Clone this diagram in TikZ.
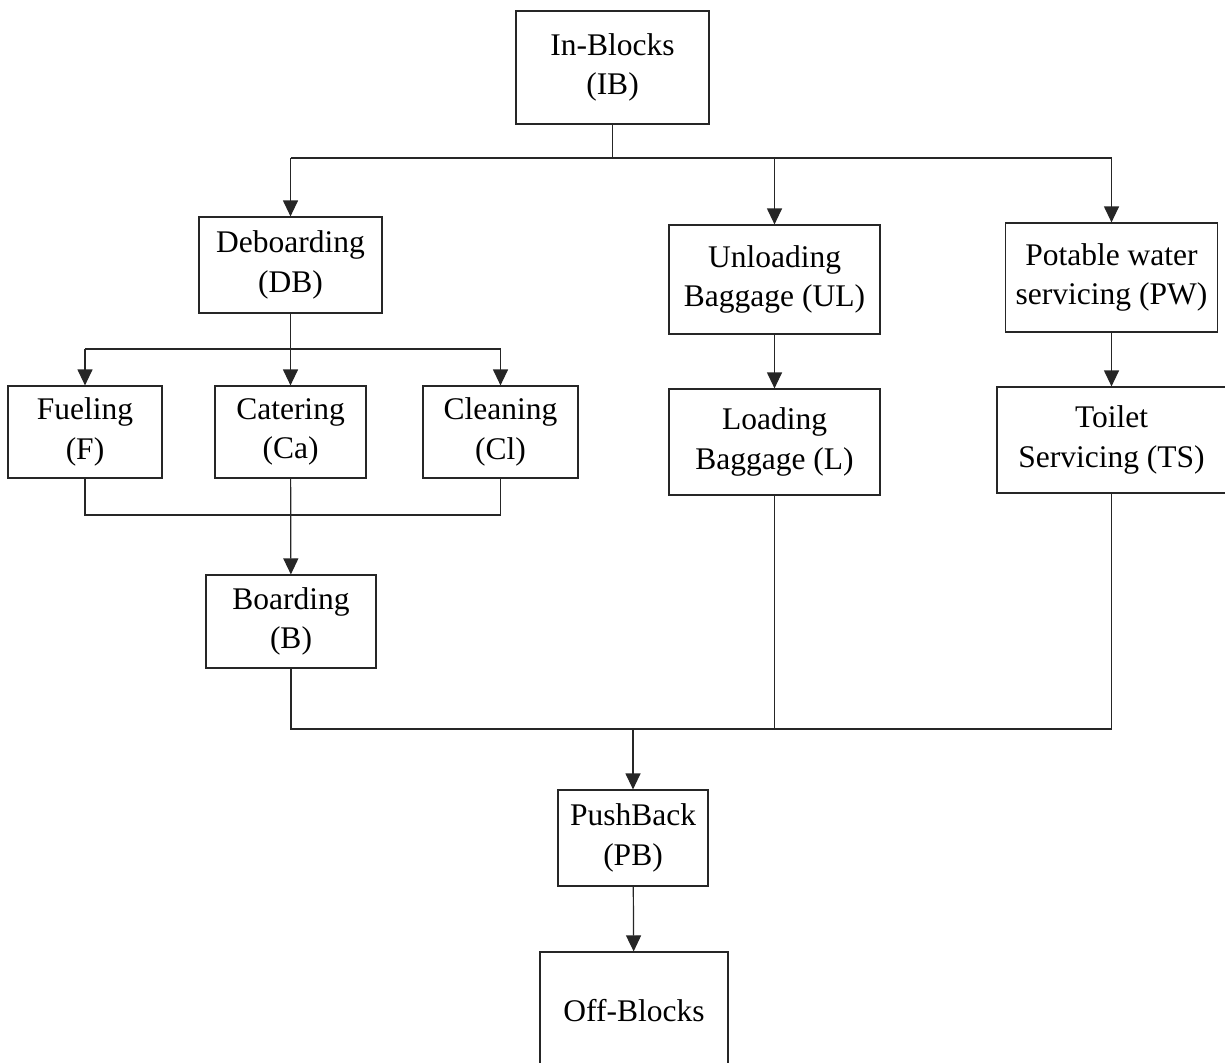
\documentclass[tikz,border=0pt]{standalone}
\usepackage{fontspec}
\setmainfont{Liberation Serif}
\usetikzlibrary{arrows.meta}
\tikzset{
  box/.style={draw=black!85, line width=1.2pt, rectangle, align=center, inner sep=0pt,
    font=\fontsize{31.5pt}{39.5pt}\selectfont},
  conn/.style={line width=1.2pt, draw=black!85},
  arr/.style={conn, -{Triangle[width=15pt,length=16pt]}}
}
\begin{document}
\begin{tikzpicture}[x=1pt,y=-1pt]
\clip (0,0) rectangle (1225,1062);
\fill[white] (0,0) rectangle (1225,1062);
\node[box, minimum width=193pt, minimum height=113pt] (ib) at (612.5,67.5) {In-Blocks\\(IB)};
\node[box, minimum width=183pt, minimum height=96pt] (db) at (290.5,265) {Deboarding\\(DB)};
\node[box, minimum width=211pt, minimum height=109pt] (ul) at (774.5,279.5) {Unloading\\Baggage (UL)};
\node[box, minimum width=212pt, minimum height=109pt] (pw) at (1111.5,277.5) {Potable water\\servicing (PW)};
\node[box, minimum width=154pt, minimum height=92pt] (f) at (85,432) {Fueling\\(F)};
\node[box, minimum width=151pt, minimum height=92pt] (ca) at (290.5,432) {Catering\\(Ca)};
\node[box, minimum width=155pt, minimum height=92pt] (cl) at (500.5,432) {Cleaning\\(Cl)};
\node[box, minimum width=170pt, minimum height=93pt] (b) at (291,621.5) {Boarding\\(B)};
\node[box, minimum width=211pt, minimum height=106pt] (l) at (774.5,442) {Loading\\Baggage (L)};
\node[box, minimum width=229pt, minimum height=106pt] (ts) at (1111.5,440) {Toilet\\Servicing (TS)};
\node[box, minimum width=150pt, minimum height=96pt] (pb) at (633,838) {PushBack\\(PB)};
\node[box, minimum width=188pt, minimum height=118pt] (ob) at (634,1011) {Off-Blocks};
% junction rows
\coordinate (j1) at (612.5,158);
\coordinate (j2) at (290.5,349);
\coordinate (j3) at (290.5,515);
\coordinate (j4) at (633,729);
% In-Blocks fan-out
\draw[conn] (ib) -- (j1);
\draw[conn] (j1 -| db) -- (j1 -| pw);
\draw[arr] (j1 -| db) -- (db);
\draw[arr] (j1 -| ul) -- (ul);
\draw[arr] (j1 -| pw) -- (pw);
% Deboarding fan-out
\draw[conn] (db) -- (j2);
\draw[conn] (j2 -| f) -- (j2 -| cl);
\draw[arr] (j2 -| f) -- (f);
\draw[arr] (j2) -- (ca);
\draw[arr] (j2 -| cl) -- (cl);
% merge to Boarding
\draw[conn] (f) -- (j3 -| f) -- (j3 -| cl) -- (cl);
\draw[arr] (ca) -- (b);
% chains
\draw[arr] (ul) -- (l);
\draw[arr] (pw) -- (ts);
% merge to PushBack
\draw[conn] (b) -- (j4 -| b) -- (j4 -| ts) -- (ts);
\draw[conn] (l) -- (j4 -| l);
\draw[arr] (j4) -- (pb);
\draw[arr] (pb) -- (ob);
\end{tikzpicture}
\end{document}
